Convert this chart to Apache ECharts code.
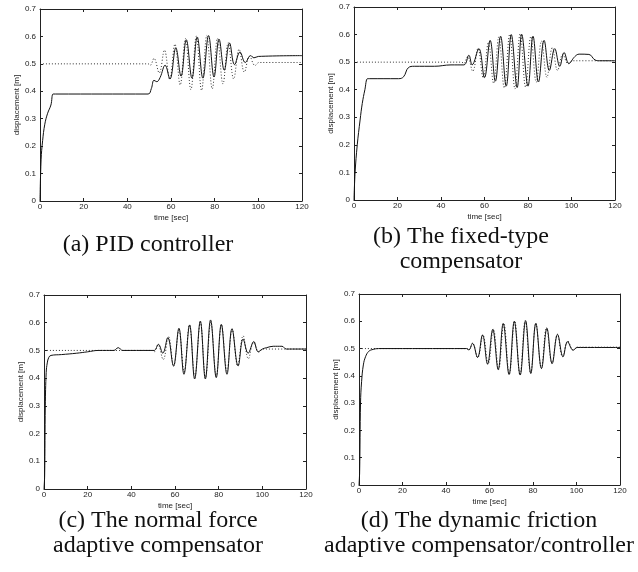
<!DOCTYPE html>
<html>
<head>
<meta charset="utf-8">
<script src="https://cdn.jsdelivr.net/npm/echarts@6/dist/echarts.min.js"></script>
<style>
  html, body { margin: 0; padding: 0; background: #fff; }
  #chart { width: 638px; height: 572px; }
</style>
</head>
<body>
<div id="chart"></div>
<script>
// axis ranges / ticks
var timeMin = 0, timeMax = 120, timeStep = 20;
var dispMin = 0, dispMax = 0.7, dispStep = 0.1;

// reference trajectory (dotted), same in every panel
var refTime = [0, 49.5, 50.5, 52.2, 54.6, 57.0, 59.4, 61.8, 64.2, 66.6, 69.1, 71.6, 74.0, 76.4, 78.9, 81.3, 83.8, 86.2, 88.7, 91.2, 93.6, 96.0, 98.5, 100.3, 101.5, 120];
var refDisp = [0.5, 0.5, 0.495, 0.52, 0.467, 0.55, 0.443, 0.572, 0.423, 0.592, 0.406, 0.601, 0.403, 0.603, 0.409, 0.593, 0.427, 0.577, 0.445, 0.553, 0.47, 0.528, 0.494, 0.505, 0.505, 0.505];

// (a) PID controller
var pidTime = [0, 0.5, 1.2, 2.2, 3.5, 5, 6, 7, 49.5, 51, 52.2, 53.5, 55, 57.3, 59.5, 62.2, 64.6, 67, 69.6, 72, 74.6, 77.2, 79.7, 82, 84.4, 86.8, 89.1, 91.6, 94, 96.5, 98, 100, 120];
var pidDisp = [0, 0.15, 0.22, 0.28, 0.32, 0.35, 0.39, 0.39, 0.39, 0.41, 0.44, 0.435, 0.45, 0.495, 0.445, 0.558, 0.455, 0.588, 0.448, 0.598, 0.448, 0.603, 0.452, 0.59, 0.477, 0.576, 0.497, 0.543, 0.505, 0.53, 0.522, 0.527, 0.53];

// (b) fixed-type compensator
var fixedTime = [0, 0.5, 1.5, 2.8, 3.8, 5, 6.2, 7, 20.5, 22.8, 25, 27.7, 37, 44.6, 50.5, 52.8, 54.3, 57.4, 60, 62.6, 65, 67.4, 70, 72.3, 75, 77.1, 80, 82.3, 84.8, 87.4, 89.8, 92.3, 94.6, 96.6, 98.8, 101.5, 103.5, 108, 110.8, 113, 120];
var fixedDisp = [0, 0.1, 0.2, 0.29, 0.35, 0.4, 0.44, 0.44, 0.44, 0.447, 0.48, 0.485, 0.485, 0.49, 0.49, 0.525, 0.49, 0.549, 0.444, 0.579, 0.431, 0.594, 0.413, 0.6, 0.408, 0.601, 0.413, 0.594, 0.428, 0.579, 0.47, 0.549, 0.485, 0.535, 0.495, 0.52, 0.529, 0.528, 0.508, 0.505, 0.505];

// (c) normal force adaptive compensator
var normalTime = [0, 0.3, 0.6, 1.0, 1.5, 2.2, 3.2, 8, 15, 20, 25, 32, 34, 36, 49, 50.5, 52.4, 54.4, 56.7, 59.3, 61.8, 64.1, 66.7, 69, 71.6, 73.9, 76.3, 78.9, 81.2, 83.8, 86.1, 88.9, 91.2, 93.5, 96.1, 98.1, 100, 102, 105, 109, 111, 120];
var normalDisp = [0, 0.05, 0.3, 0.42, 0.455, 0.475, 0.482, 0.485, 0.49, 0.495, 0.5, 0.5, 0.51, 0.5, 0.5, 0.5, 0.522, 0.49, 0.546, 0.444, 0.58, 0.414, 0.592, 0.397, 0.606, 0.397, 0.61, 0.402, 0.594, 0.414, 0.578, 0.444, 0.541, 0.49, 0.532, 0.495, 0.505, 0.51, 0.515, 0.515, 0.505, 0.505];

// (d) dynamic friction adaptive compensator/controller
var dynTime = [0, 0.3, 0.7, 1.2, 2, 3, 4.5, 6.5, 9, 49.5, 50.5, 52.2, 54.5, 56.8, 59.1, 61.5, 64, 66.3, 69, 71.4, 74.1, 76.6, 79, 81.3, 83.9, 86.4, 88.8, 91.3, 93.8, 95.9, 98.5, 100.3, 120];
var dynDisp = [0, 0.05, 0.3, 0.38, 0.44, 0.47, 0.49, 0.497, 0.5, 0.5, 0.495, 0.519, 0.467, 0.55, 0.443, 0.57, 0.423, 0.592, 0.405, 0.6, 0.403, 0.602, 0.409, 0.592, 0.427, 0.574, 0.445, 0.552, 0.47, 0.525, 0.494, 0.504, 0.504];

var captions = [
  ['(a) PID controller'],
  ['(b) The fixed-type', 'compensator'],
  ['(c) The normal force', 'adaptive compensator'],
  ['(d) The dynamic friction', 'adaptive compensator/controller']
];

function pairs(t, v) {
  return t.map(function (x, i) { return [x, v[i]]; });
}

var panels = [
  { grid: { left: 40, top: 9, width: 262, height: 192 }, t: pidTime, v: pidDisp, cap: { x: 148, y: 245 } },
  { grid: { left: 354, top: 7, width: 261, height: 193 }, t: fixedTime, v: fixedDisp, cap: { x: 461, y: 237 } },
  { grid: { left: 44, top: 295, width: 262, height: 194 }, t: normalTime, v: normalDisp, cap: { x: 158, y: 521 } },
  { grid: { left: 359, top: 294, width: 261, height: 191 }, t: dynTime, v: dynDisp, cap: { x: 479, y: 521 } }
];

var lineColor = '#222';
var labelFont = { fontSize: 8, fontFamily: 'Liberation Sans, Arial, sans-serif', color: '#222' };

function xAxis(i, pos, labels) {
  return {
    type: 'value', gridIndex: i, position: pos,
    min: timeMin, max: timeMax, interval: timeStep,
    name: labels ? 'time [sec]' : '', nameLocation: 'middle', nameGap: 13,
    nameTextStyle: labelFont,
    axisLine: { show: true, onZero: false, lineStyle: { color: lineColor, width: 1 } },
    axisTick: { show: true, inside: true, length: 3, lineStyle: { color: lineColor } },
    axisLabel: labels ? Object.assign({ show: true, margin: 2 }, labelFont) : { show: false },
    splitLine: { show: false }
  };
}

function yAxis(i, pos, labels) {
  return {
    type: 'value', gridIndex: i, position: pos,
    min: dispMin, max: dispMax, interval: dispStep,
    name: labels ? 'displacement [m]' : '', nameLocation: 'middle', nameGap: 19, nameRotate: 90,
    nameTextStyle: labelFont,
    axisLine: { show: true, onZero: false, lineStyle: { color: lineColor, width: 1 } },
    axisTick: { show: true, inside: true, length: 3, lineStyle: { color: lineColor } },
    axisLabel: labels ? Object.assign({ show: true, margin: 4 }, labelFont) : { show: false },
    splitLine: { show: false }
  };
}

var option = { animation: false, backgroundColor: '#fff', grid: [], xAxis: [], yAxis: [], series: [], graphic: [] };

panels.forEach(function (p, i) {
  option.grid.push(p.grid);
  option.xAxis.push(xAxis(i, 'bottom', true), xAxis(i, 'top', false));
  option.yAxis.push(yAxis(i, 'left', true), yAxis(i, 'right', false));
  option.series.push({
    type: 'line', xAxisIndex: 2 * i, yAxisIndex: 2 * i,
    data: pairs(refTime, refDisp), showSymbol: false, smooth: 0.4,
    lineStyle: { color: '#333', width: 1, type: [1, 2] }
  });
  option.series.push({
    type: 'line', xAxisIndex: 2 * i, yAxisIndex: 2 * i,
    data: pairs(p.t, p.v), showSymbol: false, smooth: 0.4,
    lineStyle: { color: '#111', width: 1 }
  });
  captions[i].forEach(function (line, k) {
    option.graphic.push({
      type: 'text', x: p.cap.x, y: p.cap.y + k * 25,
      style: {
        text: line, fill: '#111', align: 'center', verticalAlign: 'middle',
        font: '24px "Liberation Serif", "DejaVu Serif", serif'
      }
    });
  });
});

var chart = echarts.init(document.getElementById('chart'));
chart.setOption(option);
window.addEventListener('resize', function () { chart.resize(); });
</script>
</body>
</html>
